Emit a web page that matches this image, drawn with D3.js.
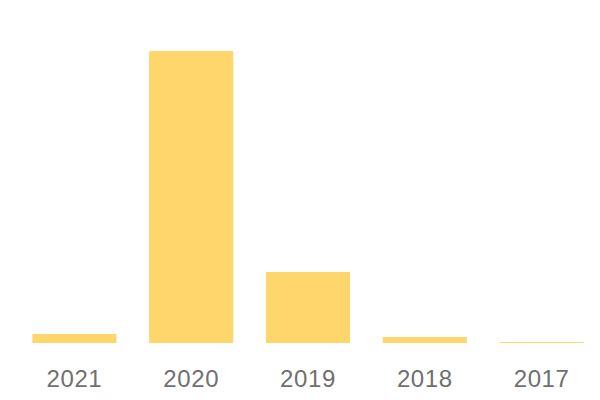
<!DOCTYPE html>
<html>
<head>
<meta charset="utf-8">
<script src="https://cdn.jsdelivr.net/npm/d3@7"></script>
<style>
  body { margin: 0; background: #fff; }
</style>
</head>
<body>
<div id="chart"></div>
<script>
const years = ['2021', '2020', '2019', '2018', '2017']
const counts = [45, 1460, 355, 30, 5]

const width = 600, height = 400
const baseY = 343, topY = 51

const svg = d3.select('#chart')
    .append('svg')
    .attr('width', width)
    .attr('height', height)

const x = d3.scaleBand()
    .domain(years)
    .range([16, 600])
    .paddingInner(0.28)
    .paddingOuter(0.14)

const y = d3.scaleLinear()
    .domain([0, d3.max(counts)])
    .range([baseY, topY])

const data = years.map((yr, i) => ({ year: yr, value: counts[i] }))

svg.selectAll('rect.bar')
    .data(data)
    .enter().append('rect')
    .attr('class', 'bar')
    .attr('x', d => x(d.year))
    .attr('y', d => y(d.value))
    .attr('width', x.bandwidth())
    .attr('height', d => baseY - y(d.value))
    .style('fill', '#ffd66b')

// x axis labels, no line/ticks
const axis = svg.append('g')
    .attr('transform', 'translate(0,' + baseY + ')')
    .call(d3.axisBottom(x).tickSize(0).tickPadding(0))
axis.select('.domain').remove()
axis.selectAll('text')
    .attr('y', 44)
    .attr('dy', 0)
    .style('font-family', '"Liberation Sans", Arial, sans-serif')
    .style('font-size', '24px')
    .style('letter-spacing', '0.6px')
    .style('fill', '#707070')
</script>
</body>
</html>
